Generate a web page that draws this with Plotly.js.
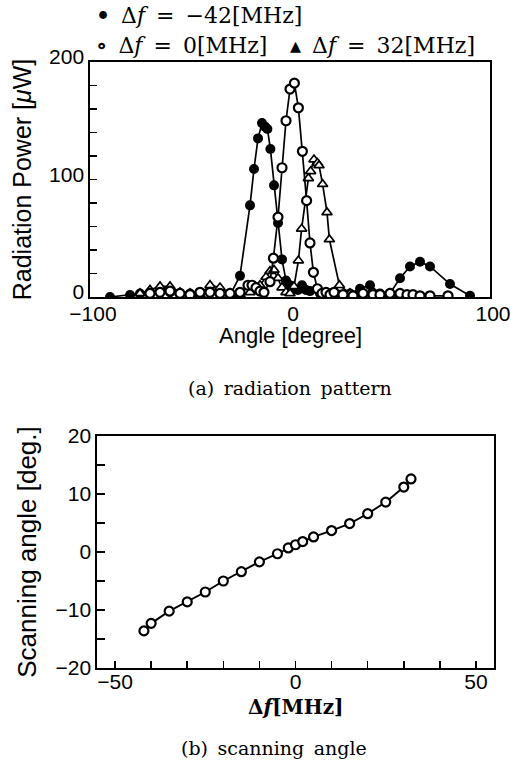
<!DOCTYPE html>
<html>
<head>
<meta charset="utf-8">
<script src="https://cdn.plot.ly/plotly-3.0.1.min.js"></script>
<style>html,body{margin:0;padding:0;background:#fff;}#chart{width:511px;height:771px;}</style>
</head>
<body>
<div id="chart"></div>
<script>
// (a) radiation pattern — angle [degree] vs radiation power [μW]
const angleM42 = [-90,-80,-75,-70,-65,-60,-55,-50,-45,-40,-35,-30,-25,-20,-18,-16,-14,-12.5,-11.3,-9.8,-8,-6,-4,-2,0,2,4,6,8,10,15,20,25,30,35,40,45,50,55,60,65,70,80,90];
const powerM42 = [0,1.7,3,4,5,4,3,3,4,5,3,1.5,18,78,109,135,148,145,143,126,95,63,32,14,10,7,6,10,6,5,3,3,2,3,7,10,3,3,16,26,30,26,11,1];

const angle0 = [-70,-65,-60,-55,-50,-45,-40,-35,-30,-25,-21,-19,-17,-15,-13,-10,-8.3,-6,-4,-2,0,2.2,4.2,6.2,8.3,10,11.7,13.7,16,18,20,22,26.5,31.5,36.5,41.5,45,50,55,58.5,61.5,65,70,79];
const power0 = [3,4,5,3,2,4,4,3,3,4,10,10,8,5,4,13,33,68,110,150,177,182,161,124,82,46,21,7,3,4,2,4,2,1,3,2,2,3,3,2,2,1,1,1];

const angleP32 = [-75,-70,-65,-60,-55,-50,-45,-40,-35,-30,-25,-20,-15,-12,-10,-8,-6,-4,-2,0,2,4.2,5.8,9.2,10.3,12,13.7,14.5,16.3,18.5,19.7,24.7,30,35,40,45,50,55];
const powerP32 = [3,6,9,9,4,3,2,10,8,3,2,4,10,17,22,23,16,8,4,3,9,31,58,101,107,117,114,112,96,72,49,10,3,2,3,2,3,1];

// (b) scanning angle — Δf [MHz] vs scanning angle [deg.]
const deltaF = [-42,-40,-35,-30,-25,-20,-15,-10,-5,-2,0,2,5,10,15,20,25,30,32];
const scanAngle = [-13.6,-12.3,-10.2,-8.6,-6.9,-5.0,-3.4,-1.7,-0.3,0.7,1.25,1.8,2.6,3.7,4.9,6.6,8.6,11.2,12.6];

const sans = 'Liberation Sans, Arial, sans-serif';
const serif = 'DejaVu Serif, serif';
const W = 511, H = 771;

const traces = [
  {x: angleM42, y: powerM42, xaxis: 'x', yaxis: 'y', mode: 'lines+markers', name: 'Δf = −42[MHz]',
   line: {color: '#000', width: 1.7},
   marker: {symbol: 'circle', size: 10, color: '#000', line: {color: '#000', width: 0}}},
  {x: angleP32, y: powerP32, xaxis: 'x', yaxis: 'y', mode: 'lines+markers', name: 'Δf = 32[MHz]',
   line: {color: '#000', width: 1.7},
   marker: {symbol: 'triangle-up', size: 9, color: '#fff', line: {color: '#000', width: 1.7}}},
  {x: angle0, y: power0, xaxis: 'x', yaxis: 'y', mode: 'lines+markers', name: 'Δf = 0[MHz]',
   line: {color: '#000', width: 1.7},
   marker: {symbol: 'circle', size: 9, color: '#fff', line: {color: '#000', width: 2.2}}},
  {x: deltaF, y: scanAngle, xaxis: 'x2', yaxis: 'y2', mode: 'lines+markers', name: 'scan',
   line: {color: '#000', width: 1.9},
   marker: {symbol: 'circle', size: 9, color: '#fff', line: {color: '#000', width: 2.2}}}
];

const axBase = {showline: true, mirror: true, linecolor: '#000', linewidth: 1.7,
  showgrid: false, zeroline: false, ticks: 'inside', tickcolor: '#000', tickwidth: 1.6,
  tickfont: {family: sans, size: 21, color: '#000'}, automargin: false};

const layout = {
  width: W, height: H, margin: {l: 0, r: 0, t: 0, b: 0},
  paper_bgcolor: '#fff', plot_bgcolor: '#fff', showlegend: false,
  xaxis: Object.assign({}, axBase, {domain: [90/W, 490/W], anchor: 'y', range: [-100, 100],
    tickvals: [-100, 0, 100], ticktext: ['−100', '0', '100'], ticklen: 0,
    ticklabelstandoff: -3, ticklabelshift: 3}),
  yaxis: Object.assign({}, axBase, {domain: [(H-297)/H, (H-62)/H], anchor: 'x', range: [0, 200],
    tickvals: [0,20,40,60,80,100,120,140,160,180,200], ticktext: ['0','','','','','100','','','','','200'], ticklen: 7,
    ticklabelshift: -5,
    title: {text: 'Radiation Power [<i>μ</i>W]', font: {family: sans, size: 25, color: '#000'}, standoff: 10}}),
  xaxis2: Object.assign({}, axBase, {domain: [97/W, 494/W], anchor: 'y2', range: [-55, 55],
    tickvals: [-50,-40,-30,-20,-10,0,10,20,30,40,50], ticktext: ['−50','','','','','0','','','','','50'], ticklen: 7,
    ticklabelstandoff: -6}),
  yaxis2: Object.assign({}, axBase, {domain: [(H-668)/H, (H-436)/H], anchor: 'x2', range: [-20, 20],
    tickvals: [-20,-15,-10,-5,0,5,10,15,20], ticktext: ['−20','','−10','','0','','10','','20'], ticklen: 8,
    title: {text: 'Scanning angle [deg.]', font: {family: sans, size: 26, color: '#000'}, standoff: 11}}),
  annotations: [
    {xref: 'paper', yref: 'paper', x: 94/W, y: (H-15)/H, xanchor: 'left', yanchor: 'middle', showarrow: false,
     text: '<b>•</b>\u2002Δ<i>f</i>\u2002=\u2002−42[MHz]', font: {family: serif, size: 22, color: '#000'}},
    {xref: 'paper', yref: 'paper', x: 94/W, y: (H-45)/H, xanchor: 'left', yanchor: 'middle', showarrow: false,
     text: '<b>∘</b>\u2002Δ<i>f</i>\u2002=\u20020[MHz]', font: {family: serif, size: 22, color: '#000'}},
    {xref: 'paper', yref: 'paper', x: 288/W, y: (H-45)/H, xanchor: 'left', yanchor: 'middle', showarrow: false,
     text: '<b>▴</b>\u2002Δ<i>f</i>\u2002=\u200232[MHz]', font: {family: serif, size: 22, color: '#000'}},
    {xref: 'paper', yref: 'paper', x: 290/W, y: (H-335)/H, xanchor: 'center', yanchor: 'middle', showarrow: false,
     text: 'Angle [degree]', font: {family: sans, size: 22, color: '#000'}},
    {xref: 'paper', yref: 'paper', x: 295/W, y: (H-707)/H, xanchor: 'center', yanchor: 'middle', showarrow: false,
     text: '<b>Δ<i>f</i>[MHz]</b>', font: {family: serif, size: 20, color: '#000'}},
    {xref: 'paper', yref: 'paper', x: 290/W, y: (H-388)/H, xanchor: 'center', yanchor: 'middle', showarrow: false,
     text: '(a)\u2002radiation\u2002pattern', font: {family: serif, size: 19, color: '#000'}},
    {xref: 'paper', yref: 'paper', x: 274/W, y: (H-748)/H, xanchor: 'center', yanchor: 'middle', showarrow: false,
     text: '(b)\u2002scanning\u2002angle', font: {family: serif, size: 19, color: '#000'}}
  ]
};

Plotly.newPlot('chart', traces, layout, {staticPlot: true, displayModeBar: false});
</script>
</body>
</html>
